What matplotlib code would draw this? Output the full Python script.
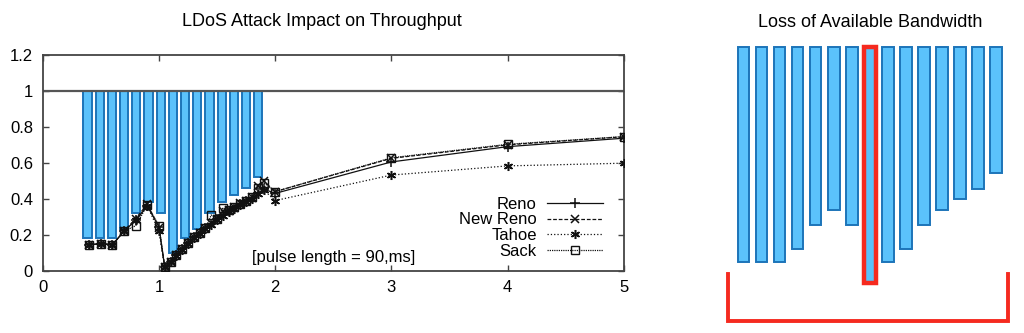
import matplotlib
matplotlib.use("Agg")
import matplotlib.pyplot as plt
import matplotlib.transforms as mtransforms
from matplotlib.ticker import FuncFormatter
import numpy as np

plt.rcParams["font.family"] = ["Liberation Sans", "DejaVu Sans"]

# pulse period (s) and normalized throughput per TCP variant
period = [0.4, 0.5, 0.6, 0.7, 0.8, 0.9, 1.0, 1.05, 1.1, 1.15, 1.2, 1.25, 1.3,
          1.35, 1.4, 1.45, 1.5, 1.55, 1.6, 1.65, 1.7, 1.75, 1.8, 1.85, 1.9,
          2.0, 3.0, 4.0, 5.0]
reno = [0.145, 0.15, 0.145, 0.22, 0.28, 0.36, 0.245, 0.02, 0.05, 0.085, 0.12,
        0.155, 0.185, 0.21, 0.235, 0.26, 0.285, 0.31, 0.33, 0.35, 0.37, 0.385,
        0.405, 0.43, 0.455, 0.43, 0.605, 0.69, 0.737]
new_reno = [0.145, 0.15, 0.145, 0.22, 0.29, 0.37, 0.24, 0.02, 0.05, 0.085, 0.12,
            0.155, 0.185, 0.21, 0.235, 0.265, 0.29, 0.33, 0.34, 0.355, 0.375,
            0.39, 0.41, 0.47, 0.5, 0.44, 0.625, 0.70, 0.745]
tahoe = [0.145, 0.15, 0.145, 0.22, 0.28, 0.36, 0.22, 0.02, 0.05, 0.08, 0.115,
         0.15, 0.18, 0.205, 0.23, 0.255, 0.28, 0.305, 0.325, 0.345, 0.365, 0.38,
         0.4, 0.425, 0.45, 0.39, 0.532, 0.583, 0.598]
sack = [0.145, 0.15, 0.145, 0.22, 0.25, 0.365, 0.25, 0.02, 0.05, 0.085, 0.12,
        0.155, 0.185, 0.21, 0.235, 0.31, 0.29, 0.35, 0.335, 0.355, 0.37, 0.39,
        0.41, 0.46, 0.49, 0.44, 0.628, 0.703, 0.746]

# lost bandwidth per pulse: bars hang from 1.0 down to these levels
bar_low = [0.18, 0.18, 0.18, 0.23, 0.32, 0.38, 0.32, 0.10, 0.18, 0.23, 0.32,
           0.38, 0.42, 0.46, 0.52]
highlight = 7

BLUE = "#5bc2fb"
BLUE_EDGE = "#1c74b9"
RED = "#f52a1f"
FRAME = "#444444"

fig = plt.figure(figsize=(10.24, 3.33), dpi=100)

# --- left: throughput vs pulse period ---
ax = fig.add_axes([0.0417, 0.187, 0.5675, 0.648])
bar_x = np.linspace(0.385, 1.855, len(bar_low))
bar_h = [1.0 - b for b in bar_low]
ax.bar(bar_x, bar_h, bottom=bar_low, width=0.07, color=BLUE,
       edgecolor=BLUE_EDGE, linewidth=1.4, zorder=1)
ax.axhline(1.0, color="#555555", lw=1.6, zorder=2)

mk = dict(color="#111111", markersize=6.5, markeredgewidth=1.1, lw=0.9, zorder=3)
ax.plot(period, reno, "-", marker="+", label="Reno", **mk)
ax.plot(period, new_reno, "--", marker="x", dashes=(3, 1.5), label="New Reno",
        **{**mk, "markersize": 5.5})
ax.plot(period, tahoe, ":", marker=(6, 2, 0), label="Tahoe", **mk)
ax.plot(period, sack, linestyle=(0, (1, 0.8)), marker="s", markerfacecolor="none",
        label="Sack", **{**mk, "markersize": 5.2, "markeredgewidth": 1.0})

ax.set_xlim(0, 5)
ax.set_ylim(0, 1.2)
ax.set_xticks(range(6))
ax.set_yticks(np.arange(0, 1.21, 0.2))
ax.yaxis.set_major_formatter(FuncFormatter(lambda v, p: f"{v:.1f}".rstrip("0").rstrip(".")))
ax.tick_params(direction="in", length=4, width=1, color=FRAME, labelsize=12,
               top=True, right=True, pad=7)
for s in ax.spines.values():
    s.set_color(FRAME)
    s.set_linewidth(1.3)

ax.text(1.8, 0.076, "[pulse length = 90,ms]", fontsize=12, va="center", ha="left")
ax.legend(loc="lower right", frameon=False, markerfirst=False, fontsize=12,
          handlelength=3.4, handletextpad=0.6, labelspacing=0.05,
          borderaxespad=0.3, bbox_to_anchor=(0.985, 0.0))
fig.text(0.3145, 0.935, "LDoS Attack Impact on Throughput", fontsize=13,
         ha="center", va="center")

# --- right: same bars, loss of available bandwidth ---
ax2 = fig.add_axes([0.698, 0.009, 0.298, 0.901])
idx = np.arange(len(bar_low))
edges = [RED if i == highlight else BLUE_EDGE for i in idx]
widths = [3.2 if i == highlight else 1.4 for i in idx]
ax2.bar(idx, bar_h, bottom=bar_low, width=0.63, color=BLUE,
        edgecolor=edges, linewidth=widths)
ax2.set_xlim(-1.611, 15.33)
ax2.set_ylim(-0.0784, 1.0636)
ax2.axis("off")

# bracket under the bars
trans = mtransforms.blended_transform_factory(ax2.transData, ax2.transAxes)
ax2.plot([-0.9, -0.9, 14.67, 14.67], [0.187, 0.03, 0.03, 0.187], color=RED,
         lw=2.8, transform=trans, solid_joinstyle="miter", clip_on=False)
fig.text(0.8495, 0.932, "Loss of Available Bandwidth", fontsize=13,
         ha="center", va="center")

fig.savefig("out.png", dpi=100)
